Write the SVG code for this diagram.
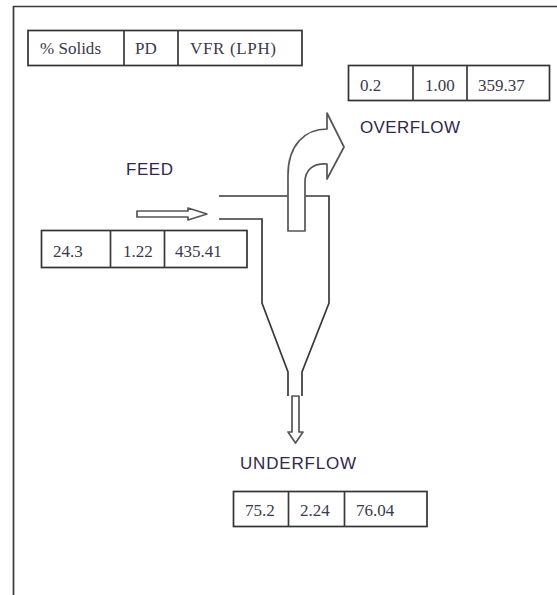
<svg xmlns="http://www.w3.org/2000/svg" width="557" height="595" viewBox="0 0 557 595">
<style>
.box{fill:#fff;stroke:#333;stroke-width:1.7}
.ln{fill:none;stroke:#3a3a3a;stroke-width:1.7}
.arr{fill:#fff;stroke:#555;stroke-width:1.7;stroke-linejoin:round}
.v{font-family:"Liberation Serif",serif;font-size:17px;fill:#3a3a4a}
.l{font-family:"Liberation Sans",sans-serif;font-size:17px;fill:#33264a}
</style>
<rect width="557" height="595" fill="#fff"/>
<path id="frame" class="ln" d="M13.5 595V6.500H557"/>
<g id="connectors">
<path class="ln" d="M219 196H288M302 196H329V303L302 372V396M219 219H262V303L288 372V396"/>
<path class="arr" d="M137 211H188V208L207 214L188 220V217H137Z"/>
<path class="arr" d="M288 231V175C288 145 305 129 327 129V113L344 147L327 179V164C313 163 305 170 305 182V231Z"/>
<path class="arr" d="M292 396H299V432H303L295.500 443L288 432H292Z"/>
</g>
<g id="header-table">
<rect class="box" x="28" y="30.500" width="274" height="35"/>
<path class="ln" d="M124 30.500V65.500M178 30.500V65.500"/>
<text class="v" x="40" y="54" textLength="61" lengthAdjust="spacing">% Solids</text>
<text class="v" x="135" y="54">PD</text>
<text class="v" x="190" y="54" textLength="86" lengthAdjust="spacing">VFR (LPH)</text>
</g>
<g id="overflow-table">
<rect class="box" x="348.500" y="65.500" width="201" height="35"/>
<path class="ln" d="M413 65.500V100.500M467 65.500V100.500"/>
<text class="v" x="360" y="91">0.2</text>
<text class="v" x="425" y="91">1.00</text>
<text class="v" x="478" y="91">359.37</text>
</g>
<g id="overflow-label"><text class="l" x="360" y="133" textLength="100" lengthAdjust="spacing">OVERFLOW</text></g>
<g id="feed-label"><text class="l" x="126" y="175" textLength="47" lengthAdjust="spacing">FEED</text></g>
<g id="feed-table">
<rect class="box" x="41.500" y="230.500" width="205.500" height="37"/>
<path class="ln" d="M110.500 230.500V267.500M164.500 230.500V267.500"/>
<text class="v" x="53" y="257">24.3</text>
<text class="v" x="123" y="257">1.22</text>
<text class="v" x="175" y="257">435.41</text>
</g>
<g id="underflow-label"><text class="l" x="240" y="469" textLength="116" lengthAdjust="spacing">UNDERFLOW</text></g>
<g id="underflow-table">
<rect class="box" x="233.500" y="491.500" width="193.500" height="35"/>
<path class="ln" d="M288.500 491.500V526.500M344.500 491.500V526.500"/>
<text class="v" x="245" y="516">75.2</text>
<text class="v" x="300" y="516">2.24</text>
<text class="v" x="356" y="516">76.04</text>
</g>
</svg>
